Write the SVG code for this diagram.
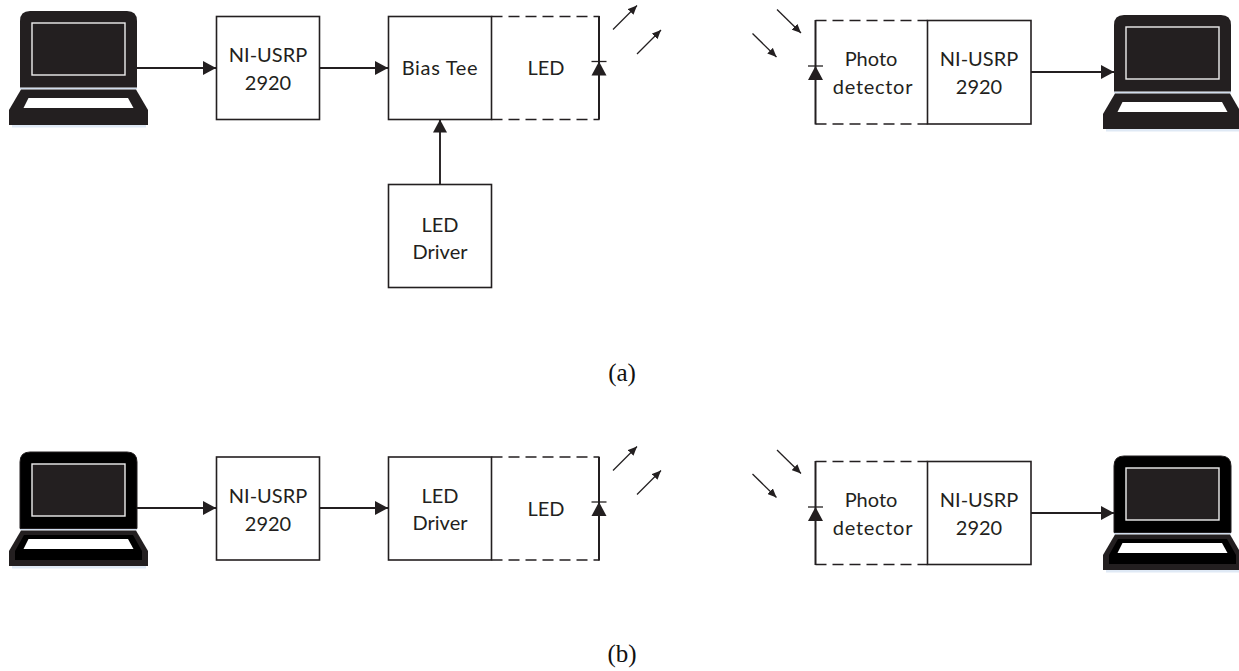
<svg xmlns="http://www.w3.org/2000/svg" width="1239" height="671" viewBox="0 0 1239 671">
<style>
.box{fill:#fff;stroke:#231f20;stroke-width:1.6}
.t{font-family:Lato,"Liberation Sans",sans-serif;font-size:20px;fill:#231f20;text-anchor:middle}
.w{letter-spacing:.7px}
.cap{font-family:"Liberation Serif",serif;font-size:25px;fill:#111;text-anchor:middle}
.a{fill:none;stroke:#231f20;stroke-width:1.9;marker-end:url(#ah)}
.r{fill:none;stroke:#231f20;stroke-width:1.3;marker-end:url(#rh)}
.d{fill:none;stroke:#231f20;stroke-width:1.6;stroke-dasharray:11 6}
.s{fill:none;stroke:#231f20;stroke-width:2}
.b{fill:none;stroke:#231f20;stroke-width:1.3}
.k{fill:#231f20}
.scr{fill:#231f20;stroke:#eee;stroke-width:1.4}
.kb{fill:#fff}
</style>
<defs>
<marker id="ah" markerUnits="userSpaceOnUse" markerWidth="13" markerHeight="14" refX="13" refY="7" orient="auto"><path d="M0 0L13 7L0 14Z" fill="#231f20"/></marker>
<marker id="rh" markerUnits="userSpaceOnUse" markerWidth="9" markerHeight="8" refX="9" refY="4" orient="auto"><path d="M0 0L9 4L0 8Z" fill="#231f20"/></marker>
<g id="lap1">
<path d="M12 126H146" stroke="#dfe9f5" stroke-width="3" fill="none"/>
<path d="M20 88.500H137" stroke="#cfdcec" stroke-width="1.500" fill="none"/>
<path class="k" d="M30 11H127Q137 11 137 21V87.500H20V21Q20 11 30 11Z"/>
<path class="k" d="M21 89.500H136L148 110V125H9V110Z"/>
<rect class="scr" x="32" y="23" width="93" height="52"/>
<path class="kb" d="M28.500 98H128L133.500 108H23.500Z"/>
</g>
<g id="lap2">
<path d="M12 126H146" stroke="#dfe9f5" stroke-width="3" fill="none"/>
<path d="M20 88.500H137" stroke="#cfdcec" stroke-width="1.500" fill="none"/>
<path fill="#000" stroke="#231f20" d="M30 11H127Q137 11 137 21V87.500H20V21Q20 11 30 11Z"/>
<path class="k" d="M21 89.500H136L148 110V125H9V110Z"/>
<path fill="#000" d="M24 94H133L142 110V119H15V110Z"/>
<rect class="scr" x="32" y="23" width="93" height="52"/>
<path class="kb" d="M28.500 98H128L133.500 108H23.500Z"/>
</g>
</defs>
<rect width="1239" height="671" fill="#fff"/>

<g id="connectors">
<path class="a" d="M137 68H216"/>
<path class="a" d="M319 68H388"/>
<path class="a" d="M440 184V119.500"/>
<path class="a" d="M1031 72H1114"/>
<path class="a" d="M137 508H216"/>
<path class="a" d="M319 508H388"/>
<path class="a" d="M1031 513H1114"/>
<path class="r" d="M613 29.500L637 5.500"/>
<path class="r" d="M637 54L661 30"/>
<path class="r" d="M777 9.500L801 33"/>
<path class="r" d="M752.500 33.500L776.500 57"/>
<path class="r" d="M613 470.500L637 446.500"/>
<path class="r" d="M637 494.500L661 470.500"/>
<path class="r" d="M777 450L801 473.500"/>
<path class="r" d="M752.500 474L776.500 497.500"/>
</g>

<use id="laptop-a-left" href="#lap1"/>
<use id="laptop-a-right" href="#lap1" x="1094" y="4"/>
<use id="laptop-b-left" href="#lap2" y="441"/>
<use id="laptop-b-right" href="#lap2" x="1094" y="445"/>

<g id="usrp-a-tx"><rect class="box" x="216.500" y="16.500" width="103" height="103"/><text class="t" x="268" y="62">NI-USRP</text><text class="t" x="268" y="89.500">2920</text></g>
<g id="bias-tee"><rect class="box" x="388.500" y="16.500" width="103" height="103"/><text class="t w" x="440" y="75">Bias Tee</text></g>
<g id="led-a">
<path class="d" d="M491.500 16.500H599.500M491.500 119.500H599.500"/><path class="s" d="M599 16V119.500"/>
<text class="t" x="546" y="75">LED</text>
<path class="b" d="M591.500 61.500H606.500"/><path fill="#231f20" d="M599 61.500L606.500 75.500H591.500Z"/>
</g>
<g id="led-driver-a"><rect class="box" x="388.500" y="184.500" width="103" height="103"/><text class="t" x="440" y="232">LED</text><text class="t" x="440" y="259">Driver</text></g>
<g id="pd-a">
<path class="d" d="M815.500 20.500H927.500M815.500 124H927.500"/><path class="s" d="M815.500 20V124.500"/>
<text class="t" x="871" y="66">Photo</text><text class="t w" x="873" y="94">detector</text>
<path class="b" d="M808 66H823"/><path fill="#231f20" d="M815.500 66L823 80H808Z"/>
</g>
<g id="usrp-a-rx"><rect class="box" x="927.500" y="20.500" width="103.500" height="103.500"/><text class="t" x="979" y="66">NI-USRP</text><text class="t" x="979" y="93.500">2920</text></g>
<text id="cap-a" class="cap" x="622" y="381">(a)</text>

<g id="usrp-b-tx"><rect class="box" x="216.500" y="457" width="103" height="103"/><text class="t" x="268" y="503">NI-USRP</text><text class="t" x="268" y="530.500">2920</text></g>
<g id="led-driver-b"><rect class="box" x="388.500" y="457" width="103" height="103"/><text class="t" x="440" y="503">LED</text><text class="t" x="440" y="530">Driver</text></g>
<g id="led-b">
<path class="d" d="M491.500 457H599.500M491.500 560H599.500"/><path class="s" d="M599 457V560.500"/>
<text class="t" x="546" y="516">LED</text>
<path class="b" d="M591.500 502H606.500"/><path fill="#231f20" d="M599 502L606.500 516H591.500Z"/>
</g>
<g id="pd-b">
<path class="d" d="M815.500 461.500H927.500M815.500 564.500H927.500"/><path class="s" d="M815.500 461V565"/>
<text class="t" x="871" y="507">Photo</text><text class="t w" x="873" y="535">detector</text>
<path class="b" d="M808 507H823"/><path fill="#231f20" d="M815.500 507L823 521H808Z"/>
</g>
<g id="usrp-b-rx"><rect class="box" x="927.500" y="461.500" width="103.500" height="103"/><text class="t" x="979" y="507">NI-USRP</text><text class="t" x="979" y="534.500">2920</text></g>
<text id="cap-b" class="cap" x="622" y="662">(b)</text>
</svg>
